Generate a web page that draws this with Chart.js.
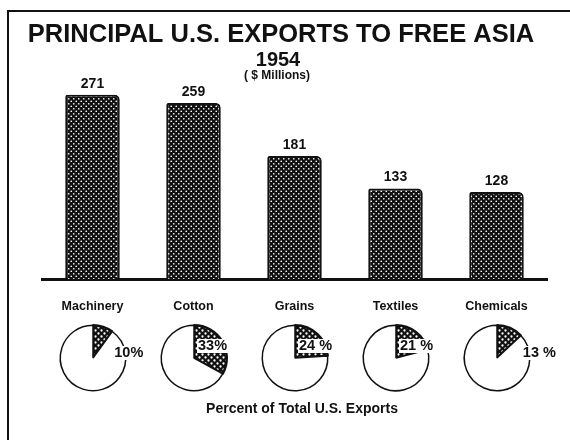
<!DOCTYPE html>
<html>
<head>
<meta charset="utf-8">
<script src="https://cdn.jsdelivr.net/npm/chart.js@4"></script>
<style>
  body { margin: 0; background: #fff; }
  #wrap { position: relative; width: 570px; height: 440px; overflow: hidden; background: #fff; }
  #wrap canvas { position: absolute; }
</style>
</head>
<body>
<div id="wrap">
  <canvas id="bars" width="570" height="440" style="left:0;top:0"></canvas>
</div>
<script>
// data
const categories = ['Machinery', 'Cotton', 'Grains', 'Textiles', 'Chemicals'];
const exportValues = [271, 259, 181, 133, 128];
const percentOfTotal = [10, 33, 24, 21, 13];
const percentLabels = ['10%', '33%', '24 %', '21 %', '13 %'];

const FONT = '"Liberation Sans", Arial, sans-serif';

// dotted black texture, like the old halftone print
function makePattern(size, dot) {
    let c = document.createElement('canvas');
    c.width = size; c.height = size;
    let g = c.getContext('2d');
    g.fillStyle = '#111';
    g.fillRect(0, 0, size, size);
    g.fillStyle = '#fff';
    g.beginPath();
    g.arc(size * 0.25, size * 0.25, dot, 0, Math.PI * 2);
    g.arc(size * 0.75, size * 0.75, dot, 0, Math.PI * 2);
    g.fill();
    let ctx = document.getElementById('bars').getContext('2d');
    return ctx.createPattern(c, 'repeat');
}
const barPattern = makePattern(5, 0.85);
const piePattern = makePattern(6, 1.15);

// titles, frame, value labels
const decorPlugin = {
    id: 'decor',
    afterDraw(chart) {
        const ctx = chart.ctx;
        ctx.save();
        ctx.strokeStyle = '#111';
        ctx.lineWidth = 2;
        ctx.beginPath();
        ctx.moveTo(8, 440);
        ctx.lineTo(8, 11);
        ctx.lineTo(570, 11);
        ctx.stroke();

        ctx.fillStyle = '#111';
        ctx.textAlign = 'center';
        ctx.textBaseline = 'middle';
        ctx.font = 'bold 25.5px ' + FONT;
        ctx.fillText('PRINCIPAL U.S. EXPORTS TO FREE ASIA', 281, 35);
        ctx.font = 'bold 20px ' + FONT;
        ctx.fillText('1954', 278, 60);
        ctx.font = 'bold 12px ' + FONT;
        ctx.fillText('( $ Millions)', 277, 76);

        ctx.font = 'bold 14px ' + FONT;
        ctx.fillText('Percent of Total U.S. Exports', 302, 409);

        const meta = chart.getDatasetMeta(0);
        ctx.font = 'bold 14px ' + FONT;
        meta.data.forEach((bar, i) => {
            ctx.fillText(String(exportValues[i]), bar.x, bar.y - 11);
        });
        ctx.restore();
    }
};

let barChart = new Chart(document.getElementById('bars'), {
    type: 'bar',
    data: {
        labels: categories,
        datasets: [{
            data: exportValues,
            backgroundColor: barPattern,
            borderColor: '#111',
            borderWidth: 2,
            borderSkipped: 'bottom',
            borderRadius: { topLeft: 2, topRight: 5 },
            barPercentage: 0.54,
            categoryPercentage: 1
        }]
    },
    options: {
        responsive: false,
        animation: false,
        layout: { padding: { top: 75, left: 42, right: 23, bottom: 0 } },
        plugins: {
            legend: { display: false },
            tooltip: { enabled: false }
        },
        scales: {
            y: { display: false, min: 0, max: 300 },
            x: {
                grid: { display: false },
                border: { display: true, color: '#111', width: 3 },
                ticks: {
                    color: '#111',
                    font: { family: FONT, size: 12.5, weight: 'bold' },
                    padding: 12
                },
                afterFit(scale) { scale.height = 161; }
            }
        }
    },
    plugins: [decorPlugin]
});

// little pies under each bar
const pieLabelPlugin = {
    id: 'pieLabel',
    afterDraw(chart) {
        const arc = chart.getDatasetMeta(0).data[0];
        const frac = chart.data.datasets[0].data[0] / 100;
        const r = arc.outerRadius;
        const txt = chart.options.plugins.pieLabel.text;
        const ctx = chart.ctx;
        ctx.save();
        ctx.font = 'bold 14.5px ' + FONT;
        ctx.textBaseline = 'middle';
        ctx.textAlign = 'left';
        let lx, ly;
        if (frac < 0.15) {
            lx = arc.x + r * Math.sin(frac * Math.PI * 2) + 2;
            ly = arc.y - 5;
        } else {
            lx = arc.x + 4;
            ly = arc.y - 12;
        }
        const w = ctx.measureText(txt).width;
        ctx.fillStyle = '#fff';
        ctx.fillRect(lx - 1, ly - 7, w + 2, 14);
        ctx.fillStyle = '#111';
        ctx.fillText(txt, lx, ly);
        ctx.restore();
    }
};

const pieCenterY = 358;
const wrap = document.getElementById('wrap');
const xScale = barChart.scales.x;
percentOfTotal.forEach((pct, i) => {
    let cv = document.createElement('canvas');
    cv.width = 130;
    cv.height = 76;
    const cx = xScale.getPixelForValue(i);
    cv.style.left = (cx - 38) + 'px';
    cv.style.top = (pieCenterY - 38) + 'px';
    wrap.appendChild(cv);
    new Chart(cv, {
        type: 'pie',
        data: {
            labels: [categories[i], 'Other'],
            datasets: [{
                data: [pct, 100 - pct],
                backgroundColor: [piePattern, '#fff'],
                borderColor: '#111',
                borderWidth: [2.5, 1.5]
            }]
        },
        options: {
            responsive: false,
            animation: false,
            layout: { padding: { left: 4, right: 58, top: 4, bottom: 4 } },
            plugins: {
                legend: { display: false },
                tooltip: { enabled: false },
                pieLabel: { text: percentLabels[i] }
            }
        },
        plugins: [pieLabelPlugin]
    });
});
</script>
</body>
</html>
